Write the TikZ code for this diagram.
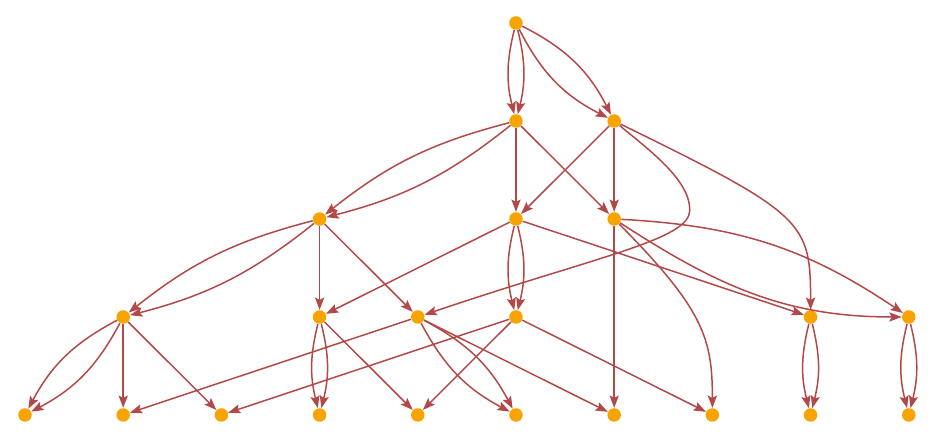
\documentclass[tikz,border=0pt]{standalone}
\usepackage{tikz}
\usetikzlibrary{arrows.meta}
\definecolor{gOrange}{RGB}{247, 163, 0}
\definecolor{gEdge}{RGB}{178, 72, 72}
\tikzset{
    vertex/.style={
        circle,
        fill=gOrange,
        inner sep=0pt,
        minimum size=2.7mm
    },
    flow/.style={
        -{Stealth[length=7pt, width=5.2pt, inset=1.3pt]},
        line width=0.85pt,
        color=gEdge
    }
}

\begin{document}
\begin{tikzpicture}[x=1.964cm, y=1.96cm]
    \useasboundingbox (-0.2546,-0.2755) rectangle (9.379,4.2347);

    % Vertices, row by row
    \node[vertex] (a) at (5,4) {};
    \node[vertex] (b) at (5,3) {};
    \node[vertex] (c) at (6,3) {};
    \node[vertex] (d) at (3,2) {};
    \node[vertex] (e) at (5,2) {};
    \node[vertex] (f) at (6,2) {};
    \node[vertex] (g) at (1,1) {};
    \node[vertex] (h) at (3,1) {};
    \node[vertex] (i) at (4,1) {};
    \node[vertex] (j) at (5,1) {};
    \node[vertex] (k) at (8,1) {};
    \node[vertex] (l) at (9,1) {};
    \foreach \n [count=\x from 0] in {m,n,o,p,q,r,s,t,u,v} {
        \node[vertex] (\n) at (\x,0) {};
    }

    % Single edges
    \foreach \u/\v in {b/e, b/f, c/e, c/f, d/h, d/i, e/h, e/k, f/s, g/n, g/o, h/q, i/n, i/s, j/o, j/q, j/t} {
        \draw[flow] (\u) -- (\v);
    }

    % Double edges
    \foreach \u/\v/\b in {a/b/14, a/c/18, b/d/12, d/g/12, e/j/14, g/m/17, h/p/14, i/r/17, k/u/14, l/v/14} {
        \draw[flow] (\u) to[bend left=\b] (\v);
        \draw[flow] (\u) to[bend right=\b] (\v);
    }

    % Curved edges
    \draw[flow] (c) .. controls (7.94,2.05) and (8.00,1.97) .. (k);
    \draw[flow] (c) .. controls (6.36,2.70) and (6.77,2.40) .. (6.77,2.09)
                    .. controls (6.77,1.79) and (5.86,1.63) .. (i);
    \draw[flow] (f) .. controls (6.92,1.07) and (7.00,0.77) .. (t);
    \draw[flow] (f) to[out=-3, in=146] (l);
    \draw[flow] (f) to[out=-33, in=180] (l);

\end{tikzpicture}
\end{document}
